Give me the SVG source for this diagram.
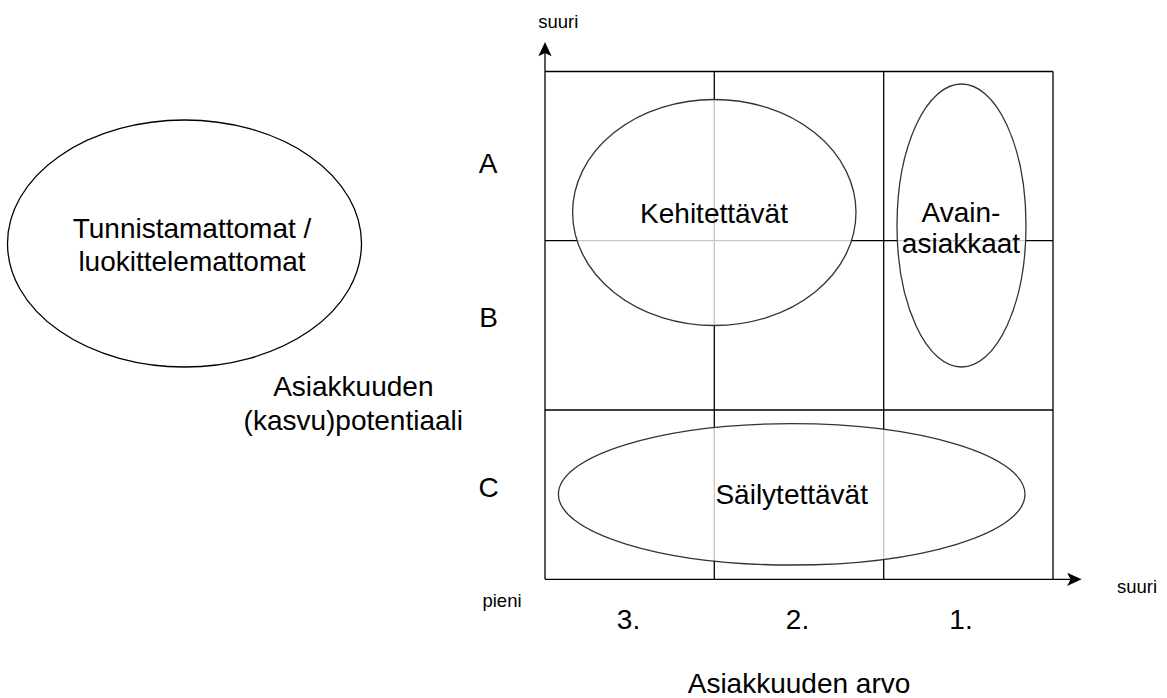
<svg xmlns="http://www.w3.org/2000/svg" width="1167" height="698" viewBox="0 0 1167 698">
<style>
  .grid { stroke: #000; stroke-width: 1.3; fill: none; }
  .ell { stroke: #333; stroke-width: 1.3; fill: #fff; fill-opacity: 0.78; }
  .ell0 { stroke: #000; stroke-width: 1.3; fill: #fff; }
  .t { font-family: "Liberation Sans", Arial, sans-serif; font-size: 28px; fill: #000; text-anchor: middle; }
  .s { font-family: "Liberation Sans", Arial, sans-serif; font-size: 18.5px; fill: #000; text-anchor: middle; }
  .axis { stroke: #000; stroke-width: 1.3; fill: none; }
</style>
<defs>
  <marker id="arr" markerUnits="userSpaceOnUse" markerWidth="20" markerHeight="20" viewBox="-5 -8 18 16" refX="0" refY="0" orient="auto">
    <path d="M10,0 L-3,-6 L0,0 L-3,6 Z" fill="#000"/>
  </marker>
</defs>
<rect width="1167" height="698" fill="#fff"/>

<g id="grid">
  <line class="grid" x1="545" y1="71.5" x2="1053" y2="71.5"/>
  <line class="grid" x1="1053" y1="71.5" x2="1053" y2="579.3"/>
  <line class="grid" x1="545" y1="240.7" x2="1053" y2="240.7"/>
  <line class="grid" x1="545" y1="410" x2="1053" y2="410"/>
  <line class="grid" x1="714.3" y1="71.5" x2="714.3" y2="579.3"/>
  <line class="grid" x1="883.7" y1="71.5" x2="883.7" y2="579.3"/>
</g>

<g id="connectors">
  <line class="axis" x1="545" y1="579.3" x2="545" y2="53" marker-end="url(#arr)"/>
  <line class="axis" x1="545" y1="579.3" x2="1070.5" y2="579.3" marker-end="url(#arr)"/>
</g>

<g id="node-tunnistamattomat">
  <ellipse class="ell0" cx="184.5" cy="243.5" rx="177" ry="123.5"/>
  <text class="t" x="192" y="237.7">Tunnistamattomat /</text>
  <text class="t" x="192" y="271.3">luokittelemattomat</text>
</g>

<g id="node-kehitettavat">
  <ellipse class="ell" cx="714.3" cy="212.5" rx="141.7" ry="113"/>
  <text class="t" x="714" y="222.7">Kehitettävät</text>
</g>

<g id="node-avainasiakkaat">
  <ellipse class="ell" cx="961.5" cy="225.5" rx="64.5" ry="141.5"/>
  <text class="t" x="961" y="221.7">Avain-</text>
  <text class="t" x="961" y="253.3">asiakkaat</text>
</g>

<g id="node-sailytettavat">
  <ellipse class="ell" cx="791.7" cy="494.3" rx="233.3" ry="70.7"/>
  <text class="t" x="791.7" y="504.3">Säilytettävät</text>
</g>

<g id="label-y-axis">
  <text class="t" x="353.3" y="396">Asiakkuuden</text>
  <text class="t" x="353.3" y="430">(kasvu)potentiaali</text>
</g>
<g id="label-x-axis">
  <text class="t" x="799" y="693">Asiakkuuden arvo</text>
</g>
<g id="label-A"><text class="t" x="488" y="172.7">A</text></g>
<g id="label-B"><text class="t" x="488.5" y="327.3">B</text></g>
<g id="label-C"><text class="t" x="488.5" y="496.7">C</text></g>
<g id="label-3"><text class="t" x="628.5" y="629.3">3.</text></g>
<g id="label-2"><text class="t" x="797.5" y="629.3">2.</text></g>
<g id="label-1"><text class="t" x="961" y="629.3">1.</text></g>
<g id="label-suuri-top"><text class="s" x="558.3" y="28">suuri</text></g>
<g id="label-suuri-right"><text class="s" x="1137" y="593.3">suuri</text></g>
<g id="label-pieni"><text class="s" x="502" y="606.7">pieni</text></g>
</svg>
